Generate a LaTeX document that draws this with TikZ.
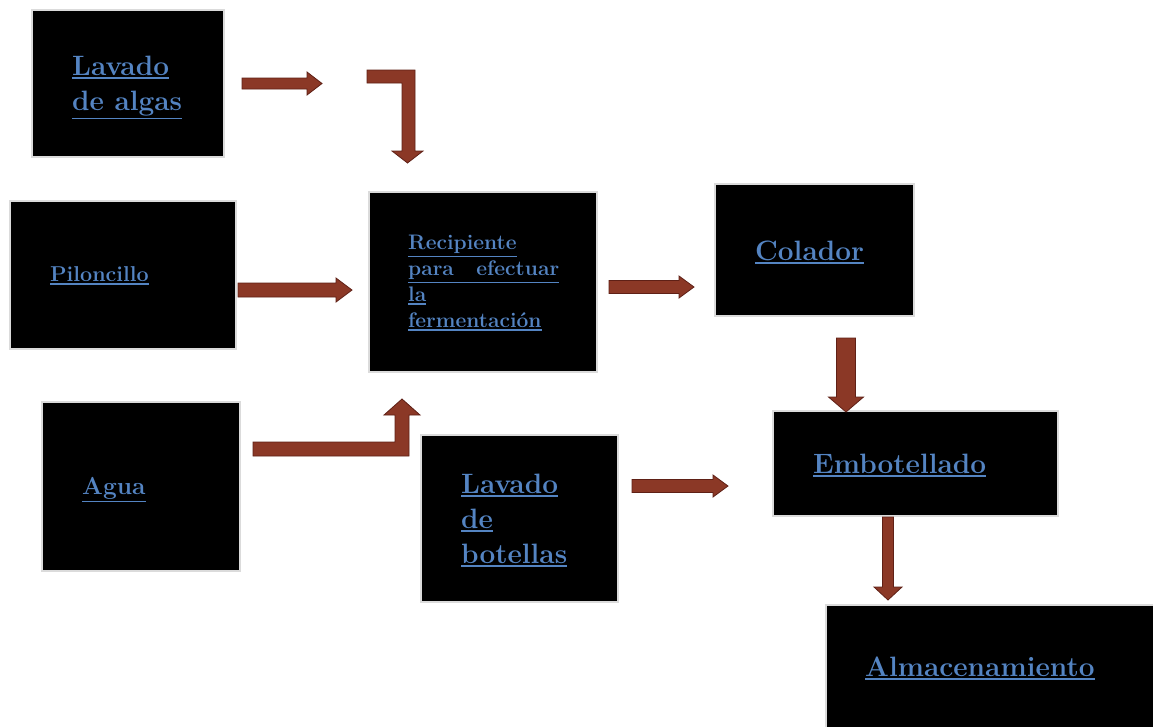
\documentclass[tikz,border=0pt]{standalone}
\usepackage{xcolor}
\definecolor{txtblue}{RGB}{84,132,194}
\definecolor{arrfill}{RGB}{139,56,38}
\definecolor{arrline}{RGB}{95,32,22}
\newcommand\myul[1]{\setbox0\hbox{#1}\rlap{\smash{\rule[\dimexpr-\dp0-3.5pt\relax]{\wd0}{1.6pt}}}\box0}
\newcommand\harr[6]{% x1,x2,yc,shaft half,head half,head length
  \draw[barrow] (#1,{#3-#4}) -- ({#2-#6},{#3-#4}) -- ({#2-#6},{#3-#5}) -- (#2,#3)
    -- ({#2-#6},{#3+#5}) -- ({#2-#6},{#3+#4}) -- (#1,{#3+#4}) -- cycle;}
\newcommand\varr[6]{% y1,y2,xc,shaft half,head half,head length
  \draw[barrow] ({#3-#4},#1) -- ({#3-#4},{#2-#6}) -- ({#3-#5},{#2-#6}) -- (#3,#2)
    -- ({#3+#5},{#2-#6}) -- ({#3+#4},{#2-#6}) -- ({#3+#4},#1) -- cycle;}
\begin{document}
\begin{tikzpicture}[x=1pt,y=-1pt,
  box/.style={fill=black, draw=black!14, line width=1.5pt, anchor=north west,
    inner sep=0pt, outer sep=0pt},
  lbl/.style={text=txtblue, inner sep=0pt, anchor=base west, align=left},
  barrow/.style={fill=arrfill, draw=arrline, line width=0.8pt, line join=miter}]
\useasboundingbox (0,0) rectangle (1153,726);
\fill[white] (0,0) rectangle (1153,726);

% boxes
\node[box, minimum width=192, minimum height=147] (algas) at (32,10) {};
\node[box, minimum width=226, minimum height=148] (pilon) at (10,201) {};
\node[box, minimum width=198, minimum height=169] (agua) at (42,402) {};
\node[box, minimum width=228, minimum height=180] (recip) at (369,192) {};
\node[box, minimum width=199, minimum height=132] (colador) at (715,184) {};
\node[box, minimum width=197, minimum height=167] (botellas) at (421,435) {};
\node[box, minimum width=285, minimum height=105] (embot) at (773,411) {};
\node[box, minimum width=340, minimum height=140] (almac) at (826,605) {};

% labels (base anchor = baseline of the last line)
\node[lbl, font=\bfseries\fontsize{28}{35}\selectfont] (talgas) at (72,110)
  {\myul{Lavado}\\\myul{de algas}};
\node[lbl, font=\bfseries\fontsize{21.5}{25}\selectfont] (tpilon) at (50,281)
  {\myul{Piloncillo}};
\node[lbl, font=\bfseries\fontsize{24.5}{30}\selectfont] (tagua) at (82,494)
  {\myul{Agua}};
\node[lbl, font=\bfseries\fontsize{21}{25.7}\selectfont] (trecip) at (408,327)
  {\myul{Recipiente}\\\myul{\makebox[151pt][s]{para efectuar}}\\\myul{la}\\\myul{fermentación}};
\node[lbl, font=\bfseries\fontsize{28}{35}\selectfont] (tcolador) at (755,260)
  {\myul{Colador}};
\node[lbl, font=\bfseries\fontsize{28}{35}\selectfont] (tbotellas) at (461,563)
  {\myul{Lavado}\\\myul{de}\\\myul{botellas}};
\node[lbl, font=\bfseries\fontsize{28}{35}\selectfont] (tembot) at (813,473)
  {\myul{Embotellado}};
\node[lbl, font=\bfseries\fontsize{28}{35}\selectfont] (talmac) at (865,676)
  {\myul{Almacenamiento}};

% arrows
\harr{242}{322}{83.5}{5.5}{11.5}{15}
\draw[barrow] (367,70) -- (415,70) -- (415,151) -- (423,151) -- (407.5,163)
  -- (392,151) -- (402,151) -- (402,83) -- (367,83) -- cycle;
\harr{238}{352}{290}{7}{12}{16}
\draw[barrow] (253,442) -- (395,442) -- (395,415) -- (384,415) -- (402,399)
  -- (420,415) -- (409,415) -- (409,456) -- (253,456) -- cycle;
\harr{609}{694}{287}{6.5}{11}{15}
\harr{632}{728}{486}{6.5}{11}{15}
\varr{338}{412}{846}{9.5}{17.5}{15}
\varr{517}{600}{888}{5.5}{14}{13}
\end{tikzpicture}
\end{document}
